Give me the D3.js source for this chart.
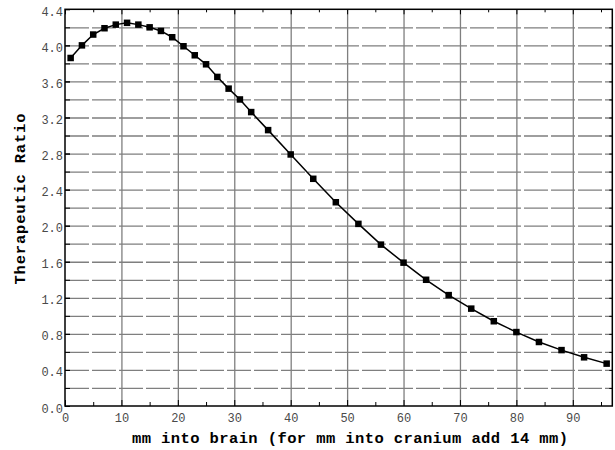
<!DOCTYPE html>
<html>
<head>
<meta charset="utf-8">
<script src="https://cdn.jsdelivr.net/npm/d3@7"></script>
<style>
  html, body { margin: 0; padding: 0; background: #fff; }
  svg { display: block; }
</style>
</head>
<body>
<svg id="chart" width="615" height="450"></svg>
<script>
// Depth into brain (mm) and the therapeutic ratio measured at each depth
const depthMm = [1, 3, 5, 7, 9, 11, 13, 15, 17, 19, 21, 23, 25, 27, 29, 31, 33,
                 36, 40, 44, 48, 52, 56, 60, 64, 68, 72, 76, 80, 84, 88, 92, 96];
const ratio = [3.86, 4.00, 4.12, 4.19, 4.23, 4.25, 4.23, 4.20, 4.16, 4.09, 3.99,
               3.89, 3.79, 3.65, 3.52, 3.40, 3.26, 3.06, 2.79, 2.52, 2.26, 2.02,
               1.79, 1.59, 1.40, 1.23, 1.08, 0.94, 0.82, 0.71, 0.62, 0.54, 0.47];

// Axis tick values
const xMajorTicks = [0, 10, 20, 30, 40, 50, 60, 70, 80, 90];
const xMinorTicks = [5, 15, 25, 35, 45, 55, 65, 75, 85, 95];
const yMajorTicks = [0, 0.4, 0.8, 1.2, 1.6, 2.0, 2.4, 2.8, 3.2, 3.6, 4.0, 4.4];
const yGridTicks = [0.2, 0.4, 0.6, 0.8, 1.0, 1.2, 1.4, 1.6, 1.8, 2.0, 2.2,
                    2.4, 2.6, 2.8, 3.0, 3.2, 3.4, 3.6, 3.8, 4.0, 4.2];
const xGridTicks = [10, 20, 30, 40, 50, 60, 70, 80, 90];

const xTitle = "mm into brain (for mm into cranium add 14 mm)";
const yTitle = "Therapeutic Ratio";

const svg = d3.select("#chart");
const plotLeft = 65, plotRight = 612.3, plotTop = 9.3, plotBottom = 406;
const plotW = plotRight - plotLeft, plotH = plotBottom - plotTop;

const x = d3.scaleLinear().domain([0, 97]).range([plotLeft, plotRight]);
const y = d3.scaleLinear().domain([0, 4.4]).range([plotBottom, plotTop]);

const monoFont = "'Liberation Mono', 'Courier New', monospace";

// Vertical grid lines
svg.append("g")
  .attr("transform", `translate(0,${plotBottom})`)
  .call(d3.axisBottom(x).tickValues(xGridTicks).tickSize(-plotH).tickFormat(""))
  .call(g => g.select(".domain").remove())
  .call(g => g.selectAll("line").attr("stroke", "#7f7f7f").attr("stroke-width", 1.3));

// Horizontal dashed grid lines
svg.append("g")
  .attr("transform", `translate(${plotLeft},0)`)
  .call(d3.axisLeft(y).tickValues(yGridTicks).tickSize(-plotW).tickFormat(""))
  .call(g => g.select(".domain").remove())
  .call(g => g.selectAll("line")
    .attr("stroke", "#7f7f7f").attr("stroke-width", 1.3)
    .attr("stroke-dasharray", "24,3"));

// Axis helper: inward ticks, no domain path
function tickAxis(axis, tf, size, values, fmt) {
  const g = svg.append("g").attr("transform", tf)
    .call(axis.tickValues(values).tickSize(size).tickFormat(fmt ? fmt : ""));
  g.select(".domain").remove();
  g.selectAll("line").attr("stroke", "#000").attr("stroke-width", 1);
  return g;
}

// Bottom axis
const xLab = tickAxis(d3.axisBottom(x), `translate(0,${plotBottom})`, -6, xMajorTicks, d3.format("d"));
tickAxis(d3.axisBottom(x), `translate(0,${plotBottom})`, -4, xMinorTicks);
xLab.selectAll("text")
  .attr("y", 16).attr("dy", 0)
  .attr("font-family", monoFont).attr("font-size", 12).attr("fill", "#4a4a4a");

// Top axis
tickAxis(d3.axisTop(x), `translate(0,${plotTop})`, -5, xMajorTicks);
tickAxis(d3.axisTop(x), `translate(0,${plotTop})`, -3, xMinorTicks);

// Left axis
const yLab = tickAxis(d3.axisLeft(y), `translate(${plotLeft},0)`, -5, yMajorTicks, d3.format(".1f"));
tickAxis(d3.axisLeft(y), `translate(${plotLeft},0)`, -5, yGridTicks);
yLab.selectAll("text")
  .attr("x", -2).attr("dy", "0.5em")
  .attr("font-family", monoFont).attr("font-size", 12).attr("fill", "#4a4a4a");

// Right axis
tickAxis(d3.axisRight(y), `translate(${plotRight},0)`, -3, yGridTicks);

// Frame
svg.append("rect")
  .attr("x", plotLeft).attr("y", plotTop)
  .attr("width", plotW).attr("height", plotH)
  .attr("fill", "none").attr("stroke", "#000").attr("stroke-width", 1.5);

// Data line
const pts = depthMm.map((d, i) => [d, ratio[i]]);
svg.append("path")
  .datum(pts)
  .attr("fill", "none").attr("stroke", "#000").attr("stroke-width", 1.5)
  .attr("d", d3.line().x(d => x(d[0])).y(d => y(d[1])));

// Square markers
const ms = 6.5;
svg.append("g").selectAll("rect")
  .data(pts).join("rect")
  .attr("x", d => x(d[0]) - ms / 2).attr("y", d => y(d[1]) - ms / 2)
  .attr("width", ms).attr("height", ms).attr("fill", "#000");

// Axis titles
svg.append("text")
  .attr("x", (131.7 + 568.3) / 2).attr("y", 443)
  .attr("text-anchor", "middle")
  .attr("font-family", monoFont).attr("font-weight", "bold").attr("font-size", 15.5)
  .attr("textLength", 436).attr("lengthAdjust", "spacing")
  .attr("fill", "#000")
  .text(xTitle);

svg.append("text")
  .attr("transform", "translate(25,199) rotate(-90)")
  .attr("text-anchor", "middle")
  .attr("font-family", monoFont).attr("font-weight", "bold").attr("font-size", 15.5)
  .attr("textLength", 171).attr("lengthAdjust", "spacing")
  .attr("fill", "#000")
  .text(yTitle);
</script>
</body>
</html>
